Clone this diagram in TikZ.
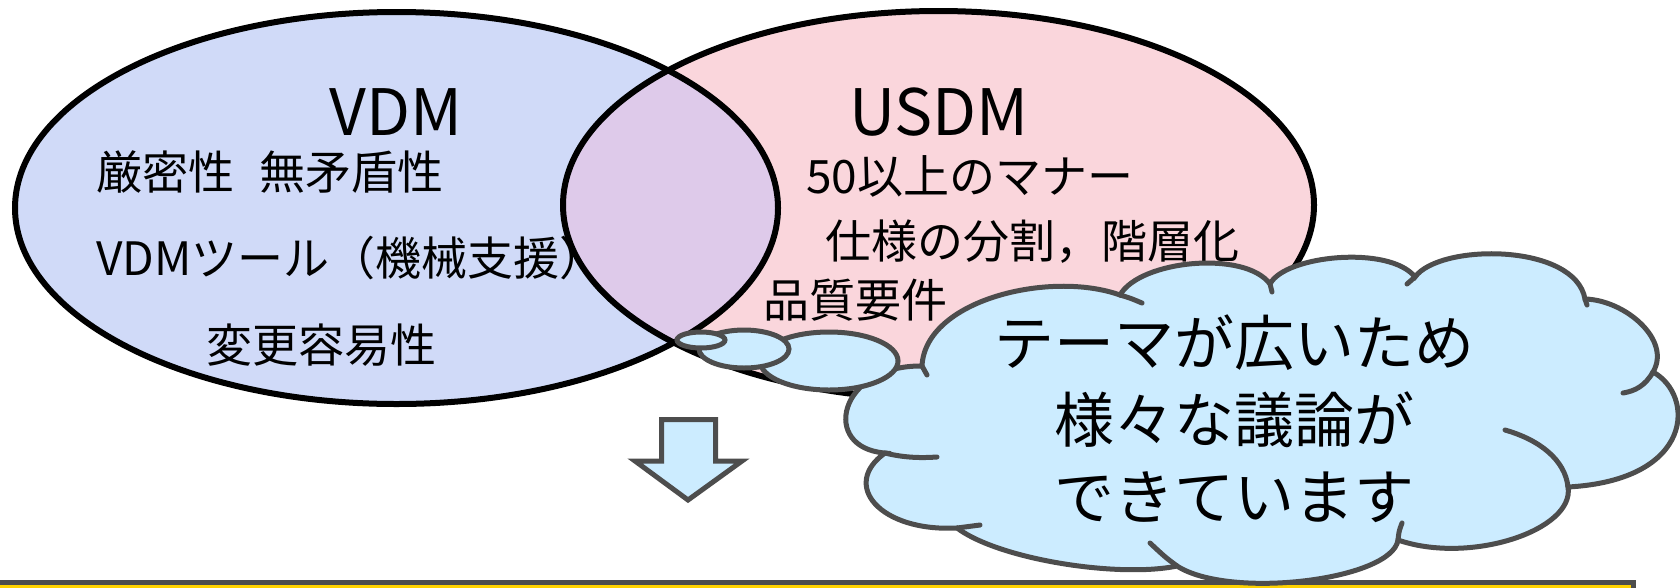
\documentclass[tikz,border=0pt]{standalone}
\usepackage{fontspec}
\setmainfont{Noto Sans CJK JP}
\definecolor{vdmfill}{RGB}{208,218,248}
\definecolor{usdmfill}{RGB}{250,214,220}
\definecolor{lensfill}{RGB}{222,202,234}
\definecolor{cloudfill}{RGB}{204,236,255}
\definecolor{cloudline}{RGB}{77,77,77}
\definecolor{baryellow}{RGB}{255,210,0}
\tikzset{
  vennline/.style={draw=black, line width=6pt},
  cloudsty/.style={draw=cloudline, fill=cloudfill, line width=5pt},
  stubsty/.style={draw=cloudline, line width=5pt, line cap=round},
  arrowsty/.style={draw=cloudline, fill=cloudfill, line width=5pt, line join=miter},
  barsty/.style={draw=cloudline, fill=baryellow, line width=5pt},
  bigtxt/.style={font=\fontsize{64}{70}\selectfont, inner sep=0pt},
  bodytxt/.style={font=\fontsize{46}{55}\selectfont, anchor=west, inner sep=0pt},
  cloudtxt/.style={font=\fontsize{60}{77}\selectfont, align=center, inner sep=0pt}
}
\begin{document}
\begin{tikzpicture}[x=1pt,y=-1pt]
\useasboundingbox (0,0) rectangle (1680,587);
% Venn fills
\path[fill=vdmfill] (396.5,208) ellipse [x radius=381.5, y radius=196];
\path[fill=usdmfill] (938.5,205) ellipse [x radius=375.5, y radius=194];
\begin{scope}
  \clip (396.5,208) ellipse [x radius=381.5, y radius=196];
  \path[fill=lensfill] (938.5,205) ellipse [x radius=375.5, y radius=194];
\end{scope}
\path[vennline] (396.5,208) ellipse [x radius=381.5, y radius=196];
\path[vennline] (938.5,205) ellipse [x radius=375.5, y radius=194];
% Venn texts
\node[bigtxt] (vdm) at (396,112) {VDM};
\node[bodytxt] (v1) at (96,172) {厳密性\hspace{0.55em}無矛盾性};
\node[bodytxt] (v2) at (96,258) {VDMツール（機械支援）};
\node[bodytxt] (v3) at (206,345) {変更容易性};
\node[bigtxt] (usdm) at (939,112) {USDM};
\node[bodytxt] (u1) at (806,176) {50以上のマナー};
\node[bodytxt] (u2) at (825,242) {仕様の分割，階層化};
\node[bodytxt] (u3) at (763,300) {品質要件};
% bottom bar
\path[barsty] (-10,582) rectangle (1633,610);
% cloud
\path[cloudsty] (922,366) .. controls (925,300) and (1050,270) .. (1120,295)
 .. controls (1140,260) and (1245,250) .. (1270,284)
 .. controls (1285,255) and (1390,245) .. (1415,277)
 .. controls (1440,243) and (1575,243) .. (1585,299)
 .. controls (1625,300) and (1672,340) .. (1653,372)
 .. controls (1695,395) and (1695,480) .. (1568,487)
 .. controls (1575,530) and (1470,565) .. (1398,540)
 .. controls (1392,580) and (1230,600) .. (1177,566)
 .. controls (1120,578) and (1000,560) .. (957,528)
 .. controls (880,532) and (840,485) .. (885,453)
 .. controls (820,448) and (838,365) .. (922,366) -- cycle;
% cloud inner stubs
\path[stubsty] (1120,295) .. controls (1130,298) .. (1142,303);
\path[stubsty] (1653,372) .. controls (1645,386) and (1635,391) .. (1623,393);
\path[stubsty] (1568,487) .. controls (1565,460) and (1540,440) .. (1505,430);
\path[stubsty] (1398,540) .. controls (1399,531) .. (1402,523);
\path[stubsty] (1177,566) .. controls (1165,557) .. (1150,543);
\path[stubsty] (957,528) .. controls (968,526) .. (980,525);
\path[stubsty] (885,453) .. controls (905,458) and (922,458) .. (937,457);
\path[stubsty] (922,366) -- (927,375);
\path[stubsty] (1270,284) -- (1272,292);
\path[stubsty] (1415,277) -- (1407,284);
\path[stubsty] (1585,299) -- (1587,305);
% thought bubbles
\path[cloudsty] (829,361) ellipse [x radius=69, y radius=29];
\path[cloudsty] (744,349) ellipse [x radius=45, y radius=19];
\path[cloudsty] (701,340) ellipse [x radius=24, y radius=8];
% cloud text
\node[cloudtxt] (ctext) at (1234,419) {テーマが広いため\\様々な議論が\\できています};
% down arrow
\path[arrowsty] (661.5,419.5) -- (715.5,419.5) -- (715.5,461) -- (742,461)
  -- (688,500) -- (635,461) -- (661.5,461) -- cycle;
\end{tikzpicture}
\end{document}
